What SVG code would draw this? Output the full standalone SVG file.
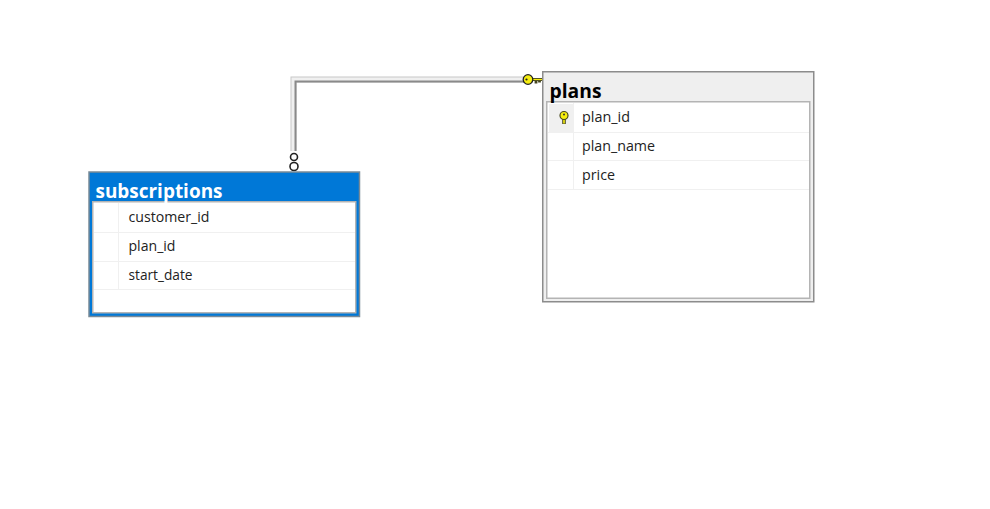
<svg xmlns="http://www.w3.org/2000/svg" width="990" height="509" viewBox="0 0 990 509">
<style>
.cell{font:14.2px "Open Sans","Noto Sans",sans-serif;fill:#222}
.title{font:bold 19px "Open Sans","Noto Sans",sans-serif}
.rule{stroke:#f0f0f0;stroke-width:1;fill:none}
.grid{fill:#fff;stroke:#b4b4b4;stroke-width:1.500}
.ring{fill:#fff;stroke:#222;stroke-width:1.600}
</style>
<rect width="990" height="509" fill="#fff"/>
<g id="connectors" fill="none">
<path d="M293.500 151V79.500H524" stroke="#c8c8c8" stroke-width="6"/>
<path d="M293.500 151V79.500H524" stroke="#f0f0f0" stroke-width="4"/>
<path d="M295.500 151V81.500H524" stroke="#8a8a8a" stroke-width="2"/>
<circle class="ring" cx="294" cy="157" r="3.500"/>
<circle class="ring" cx="294" cy="166.500" r="4"/>
</g>
<g id="plans">
<rect x="542.750" y="71.750" width="271" height="230" fill="#efefef" stroke="#8c8c8c" stroke-width="1.500"/>
<rect x="546.750" y="101.750" width="263" height="196.500" class="grid"/>
<rect x="549" y="104" width="24" height="28" fill="#f0f0f0"/>
<path class="rule" d="M548 132.500H809M548 160.500H809M548 189.500H809M573.500 103V189"/>
<text class="title" x="549.500" y="98" fill="#000" textLength="52" lengthAdjust="spacingAndGlyphs">plans</text>
<text class="cell" x="582" y="122" textLength="48" lengthAdjust="spacingAndGlyphs">plan_id</text>
<text class="cell" x="582" y="151" textLength="73" lengthAdjust="spacingAndGlyphs">plan_name</text>
<text class="cell" x="582" y="180" textLength="33" lengthAdjust="spacingAndGlyphs">price</text>
<g id="plans-key-icon">
<path d="M564 119V124" stroke="#4a4a20" stroke-width="3.600"/>
<path d="M564 119V123.500" stroke="#f6ee10" stroke-width="1.600"/>
<circle cx="564" cy="115.500" r="4" fill="#f6ee10" stroke="#4a4a20" stroke-width="1.200"/>
<circle cx="564" cy="114.500" r="1" fill="#333"/>
</g>
</g>
<g id="subscriptions">
<rect x="89" y="172" width="270.500" height="144.500" fill="#0078d7" stroke="#7a8a96" stroke-width="1.500"/>
<rect x="92.750" y="201.750" width="263" height="111" class="grid"/>
<path class="rule" d="M94 232.500H355M94 261.500H355M94 289.500H355M118.500 203V289"/>
<text class="title" x="95.500" y="198" fill="#fff" textLength="127" lengthAdjust="spacingAndGlyphs">subscriptions</text>
<text class="cell" x="128.500" y="222" textLength="81" lengthAdjust="spacingAndGlyphs">customer_id</text>
<text class="cell" x="128.500" y="251" textLength="47" lengthAdjust="spacingAndGlyphs">plan_id</text>
<text class="cell" x="128.500" y="280" textLength="64" lengthAdjust="spacingAndGlyphs">start_date</text>
</g>
<g id="relationship-key-icon">
<path d="M532 79.500H542M536 79.500V83.500M539.500 79.500V82.500" stroke="#444420" stroke-width="2.800" fill="none"/>
<path d="M532 79.500H542" stroke="#f6ee10" stroke-width="1.200"/>
<circle cx="528" cy="79.500" r="4.800" fill="#f6ee10" stroke="#222" stroke-width="1.300"/>
<circle cx="526.500" cy="79.500" r="1.100" fill="#222"/>
</g>
</svg>
